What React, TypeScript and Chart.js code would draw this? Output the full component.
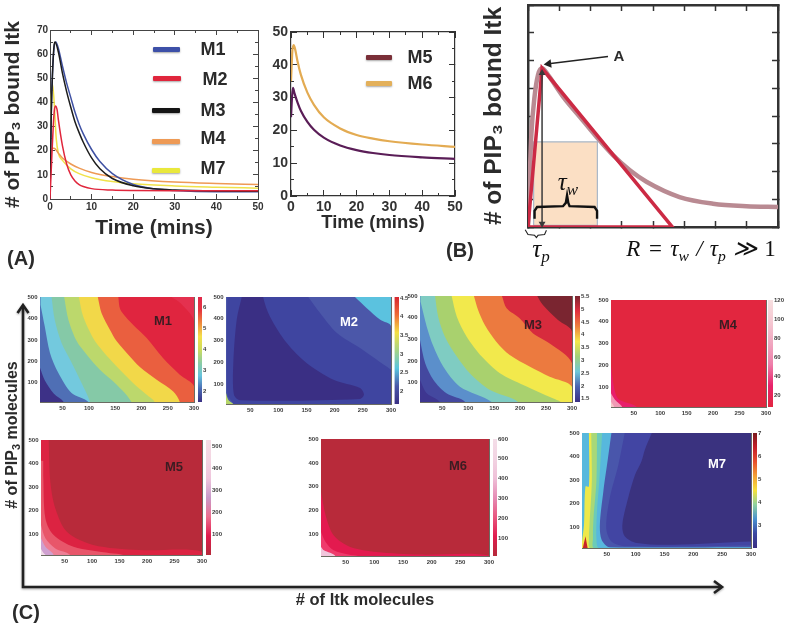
import React, { useEffect, useRef } from "react";
import { Chart, registerables } from "chart.js";

Chart.register(...registerables);

const W = 786;
const H = 626;
const SANS = "'Liberation Sans', Arial, sans-serif";
const SERIF = "'Liberation Serif', 'DejaVu Serif', serif";
const INK = "#2b2b2b";

type P = number[];

// ---------- Panel A: time courses ----------
const timeTicksMajor = [0, 10, 20, 30, 40, 50];
const timeTicksMinor = [5, 15, 25, 35, 45];
const aYMajor = [0, 10, 20, 30, 40, 50, 60, 70];
const aYMinor = [5, 15, 25, 35, 45, 55, 65];
const m1Curve: P[] = [[0, 0], [0.3, 35], [0.6, 52], [1, 63], [1.4, 65], [2, 62.5], [3, 55], [4, 48], [5, 42], [6, 36], [7, 31], [8, 27], [10, 20.5], [12, 15.5], [15, 10.5], [20, 6], [25, 4.2], [30, 3.5], [40, 3], [50, 3]];
const m2Curve: P[] = [[0, 0], [0.5, 20], [1, 36], [1.3, 38.5], [1.7, 37], [2, 33], [3, 22], [4, 14.5], [5, 10], [6, 7.5], [7, 6], [8, 5.2], [10, 4.3], [15, 3.7], [20, 3.5], [30, 3.4], [50, 3.4]];
const m3Curve: P[] = [[0, 0], [0.3, 35], [0.6, 52], [1, 64], [1.2, 65], [2, 61], [3, 52], [4, 44.5], [5, 38], [6, 32], [7, 27.5], [8, 23.5], [10, 17], [12, 12.5], [15, 8.5], [20, 5.5], [25, 4.2], [30, 3.7], [40, 3.3], [50, 3.2]];
const m4Curve: P[] = [[0, 8], [0.2, 17], [0.5, 21], [1, 21], [2, 19], [3, 17], [5, 14.5], [7, 12.8], [10, 11], [15, 9.3], [20, 8.2], [30, 7], [40, 6.4], [50, 6]];
const m7Curve: P[] = [[0, 10], [0.2, 35], [0.6, 47.5], [1, 40], [1.5, 25], [2, 19], [3, 16], [5, 12.5], [7, 10.5], [10, 8.8], [15, 7.2], [20, 6.3], [30, 5.4], [40, 4.9], [50, 4.5]];

// ---------- Panel A, right: M5 and M6 ----------
const bYMajor = [0, 10, 20, 30, 40, 50];
const bYMinor = [5, 15, 25, 35, 45];
const m5Curve: P[] = [[0, 24], [0.3, 30], [0.6, 33], [1, 31.5], [2, 28.5], [3, 26], [5, 22.6], [7, 20.2], [10, 17.8], [15, 15.4], [20, 14], [25, 13.1], [30, 12.5], [40, 11.8], [50, 11.3]];
const m6Curve: P[] = [[0, 35], [0.4, 44], [0.8, 46], [1.2, 45], [2, 41], [3, 37], [5, 31.5], [7, 27.8], [10, 24], [15, 20.6], [20, 18.6], [25, 17.5], [30, 16.7], [40, 15.7], [50, 15]];

// ---------- Panel B: schematic ----------
const schemeTicks = [0, 1, 2, 3, 4, 5, 6, 7, 8];
const schemeCurve: P[] = [[0, 0], [0.11, 3.37], [0.21, 4.7], [0.32, 5.48], [0.45, 5.72], [0.64, 5.48], [1.12, 4.7], [1.65, 3.98], [2.19, 3.25], [2.72, 2.59], [3.25, 2.05], [3.79, 1.63], [4.85, 1.08], [5.92, 0.84], [6.99, 0.75], [8, 0.72]];
const schemeTriangle: P[] = [[0, 0], [0.45, 5.72], [4.62, 0], [0, 0]];
const schemeBox: P[] = [[0.18, 0.06], [0.18, 3.07], [2.22, 3.07], [2.22, 0.06], [0.18, 0.06]];
const schemeHeight: P[] = [[0.45, 0.12], [0.45, 5.55]];
const schemeLeader: P[] = [[2.56, 6.14], [0.66, 5.88]];
const tauWBrace: P[] = [[0.21, 0.3], [0.21, 0.58], [0.29, 0.72], [1.12, 0.75], [1.21, 0.87], [1.25, 1.14], [1.29, 0.87], [1.33, 0.75], [2.13, 0.72], [2.21, 0.58], [2.21, 0.3]];
const tauPBrace: P[] = [[-0.09, -0.1], [0, -0.27], [0.21, -0.3], [0.27, -0.38], [0.32, -0.3], [0.53, -0.27], [0.59, -0.12], [0.53, -0.27]];

// ---------- Panel C: phase diagrams ----------
const itkTicks = [50, 100, 150, 200, 250, 300];
const pipTicks = [100, 200, 300, 400, 500];
const X0 = 7;
const X1 = 300;
const Y0 = 10;
const Y1 = 500;

const m1Levels: P[][] = [
  [[257, 500], [275, 470], [300, 386]],
  [[156, 500], [160, 441], [184, 371], [210, 309], [241, 215], [273, 137], [300, 83]],
  [[117, 500], [124, 425], [140, 347], [153, 293], [175, 231], [197, 173], [229, 114], [260, 60], [273, 10]],
  [[81, 500], [89, 410], [108, 309], [127, 246], [153, 176], [184, 99], [210, 44], [225, 10]],
  [[53, 500], [61, 394], [77, 293], [96, 231], [121, 161], [153, 91], [181, 10]],
  [[29, 500], [35, 394], [48, 285], [64, 208], [83, 114], [102, 10]],
  [[8, 464], [16, 363], [26, 239], [42, 145], [67, 52], [99, 10]],
  [[7, 170], [16, 112], [33, 50], [52, 10]],
];
const m1Fill = ["#e4314f", "#e0253f", "#ea5f3f", "#f2d849", "#bcd86c", "#85c9a7", "#73c9de", "#4f6fb5", "#3d3187"];
const m1Bar = ["#3a3084", "#4a69b2", "#66c3dc", "#8ccca2", "#cddc5c", "#f4df4a", "#ee8a3e", "#e5353f", "#e0284a"];
const m1BarTicks = [2, 3, 4, 5, 6];

const m2Levels: P[][] = [
  [[236, 500], [257, 449], [281, 396], [300, 366]],
];
const m2MidBlue: P[] = [[153, 500], [174, 427], [204, 335], [245, 266], [300, 167], [340, 100], [340, -40], [20, -40], [20, 10], [9.4, 53], [9.4, 560]];
const m2DarkBlue: P[] = [[35, 560], [73, 560], [73, 500], [85, 411], [115, 289], [150, 198], [198, 121], [245, 83], [252, 53], [245, 33], [32, 27], [21, 53], [20, 198], [26, 396], [35, 500]];
const m2Corner: P[] = [[7, 60], [11, 30], [20, 10], [25, -20], [-10, -20], [-10, 60]];
const m2Fill = ["#5bc2df", "#4b57a9"];
const m2Bar = ["#3a3084", "#4a57a8", "#5ac5de", "#a6d487", "#f3df43", "#ef6a35", "#d72630"];
const m2BarTicks = [2, 2.5, 3, 3.5, 4, 4.5];

const m3Levels: P[][] = [
  [[233, 500], [244, 458], [273, 389], [300, 335]],
  [[165, 500], [174, 443], [199, 397], [225, 327], [257, 281], [300, 189]],
  [[111, 500], [119, 435], [132, 366], [154, 289], [180, 227], [219, 173], [257, 127], [300, 81]],
  [[68, 500], [78, 404], [97, 312], [126, 220], [161, 143], [206, 89], [263, 27], [280, 5]],
  [[36, 500], [42, 404], [55, 312], [78, 220], [103, 143], [142, 65], [196, 10]],
  [[8, 474], [20, 358], [33, 266], [52, 173], [84, 81], [145, 10]],
  [[7, 297], [17, 189], [33, 112], [58, 50], [94, 10]],
  [[7, 112], [20, 50], [45, 10]],
];
const m3Fill = ["#7a2530", "#d72b3d", "#ec7a3f", "#f2e94c", "#a9d16e", "#7fccc2", "#5b8fcb", "#44489f", "#3e3690"];
const m3Bar = ["#3a3084", "#4a62b0", "#6fc7d8", "#a2d27a", "#f4e84a", "#ee7f3d", "#e12f3f", "#7b2630"];
const m3BarTicks = [1.5, 2, 2.5, 3, 3.5, 4, 4.5, 5, 5.5];

const m4Levels: P[][] = [
  [[7, 200], [12, 108], [21, 47], [56, 10]],
  [[7, 73], [15, 42], [28, 10]],
  [[7, 34], [13, 10]],
];
const m4Fill = ["#e2263f", "#e81f6b", "#f09ab5", "#f6c9c9"];
const m4Bar = ["#e2263f", "#e8236b", "#ee7faa", "#f0a8c0", "#f5c8d2", "#f7dfe0"];
const m4BarTicks = [20, 40, 60, 80, 100, 120];

const m5Levels: P[][] = [
  [[21, 500], [24, 322], [33, 209], [54, 109], [102, 53], [186, 31], [300, 24]],
  [[11, 351], [15, 166], [30, 95], [66, 45], [133, 17], [160, 5]],
  [[7, 138], [15, 81], [33, 38], [60, 10]],
  [[7, 81], [15, 45], [30, 10]],
  [[7, 36], [12, 17], [15, 10]],
];
const m5Fill = ["#b82a3a", "#dc2342", "#e8566a", "#ee7f96", "#cfa0d0", "#f0dbe8"];
const m5Bar = ["#b52a3a", "#e01c4e", "#ec6f8f", "#c89ac9", "#efc5dc", "#f3d5e2", "#f6dde6"];
const m5BarTicks = [100, 200, 300, 400, 500];

const m6Levels: P[][] = [
  [[7, 279], [15, 181], [29, 97], [58, 48], [104, 27], [180, 16], [300, 12]],
  [[7, 111], [15, 69], [29, 34], [55, 16], [75, 5]],
  [[7, 48], [12, 34], [32, 10]],
];
const m6Fill = ["#b82a3a", "#e31a4f", "#ef3b6c", "#f1c6dc"];
const m6Bar = ["#b52a3a", "#e01c4e", "#e8567f", "#e68cb5", "#efc0d8", "#f2d3e2", "#f4dde8"];
const m6BarTicks = [100, 200, 300, 400, 500, 600];

const m7Levels: P[][] = [
  [[19, 500], [19, 272], [13, 272], [10.5, 109], [7, 38], [7, 10]],
  [[23, 500], [24, 295], [20, 109], [19, 52], [21.5, 10]],
  [[33, 500], [32, 295], [27, 138], [26, 52], [28, 10]],
  [[42, 500], [37, 295], [33, 166], [32, 52], [37, 10]],
  [[58, 500], [52, 392], [44, 251], [38, 109], [41, 45], [55, 13], [300, 13]],
  [[81, 500], [70, 364], [55, 222], [49, 95], [58, 38], [84, 17], [300, 21]],
  [[128, 500], [116, 429], [110, 379], [99, 322], [87, 223], [77, 109], [81, 60], [102, 31], [165, 24], [300, 38]],
];
const m7Peak: P[] = [[13, 60], [7.5, -20], [19, -20]];
const m7Fill = ["#57b8dd", "#eee84a", "#a8d878", "#6ccbb8", "#57b8dd", "#4956ab", "#4245a3", "#3a327f"];
const m7Bar = ["#3a2f82", "#3c48a0", "#4a90cf", "#8ed0a0", "#f5e03c", "#f3a035", "#e8502e", "#c5202a", "#7a1a1e"];
const m7BarTicks = [3, 4, 5, 6, 7];

// ---------- helpers ----------
const lineData = (pts: P[]) => pts.map(([x, y]) => ({ x, y }));
// Boundaries are closed outside the clipped plot, so that smoothing never rounds a visible corner.
const closeLeft = (b: P[]): P[] => {
  const last = b[b.length - 1];
  return [...b, [last[0], Y0 - 60], [X0 - 40, Y0 - 60], [X0 - 40, b[0][1] + 60], [b[0][0], b[0][1] + 60]];
};
const closeRight = (b: P[]): P[] => {
  const last = b[b.length - 1];
  return [...b, [X1 + 40, last[1]], [X1 + 40, Y1 + 60], [b[0][0], Y1 + 60]];
};
const fullRect: P[] = [[X0 - 40, Y0 - 60], [X0 - 40, Y1 + 60], [X1 + 40, Y1 + 60], [X1 + 40, Y0 - 60]];

const fixSize = (size: number) => (s: any) => {
  if (s.isHorizontal()) s.height = size;
  else s.width = size;
  s.paddingLeft = s.paddingRight = s.paddingTop = s.paddingBottom = 0;
};
const setTicks = (vals: number[]) => (s: any) => {
  s.ticks = vals.map((value) => ({ value }));
};

type AxisOpt = {
  pos: "left" | "right" | "top" | "bottom";
  min: number;
  max: number;
  vals: number[];
  tick: number;
  color: string;
  border: number;
  size: number;
  weight?: number;
  showBorder?: boolean;
  tickWidth?: number;
  labels?: { font: any; color: string; gap: number };
  title?: { text: string; font: any; color: string };
};
const axis = (o: AxisOpt) => ({
  type: "linear",
  axis: o.pos === "left" || o.pos === "right" ? "y" : "x",
  position: o.pos,
  min: o.min,
  max: o.max,
  weight: o.weight ?? 0,
  afterBuildTicks: setTicks(o.vals),
  afterFit: fixSize(o.size),
  border: { display: o.showBorder !== false, color: o.color, width: o.border },
  grid: {
    drawOnChartArea: false,
    drawTicks: o.tick !== 0,
    tickLength: -o.tick,
    tickColor: o.color,
    tickWidth: o.tickWidth ?? 1,
  },
  ticks: o.labels
    ? {
        display: true,
        autoSkip: false,
        maxRotation: 0,
        font: o.labels.font,
        color: o.labels.color,
        padding: o.tick + o.labels.gap,
        callback: (v: any) => String(v),
      }
    : { display: false, autoSkip: false },
  title: o.title
    ? { display: true, text: o.title.text, font: o.title.font, color: o.title.color, padding: 0 }
    : { display: false },
});

const basePlugins = { legend: { display: false }, tooltip: { enabled: false }, title: { display: false } };

const ordered = (sets: any[]) => sets.map((d, i) => ({ pointRadius: 0, ...d, order: sets.length - i }));

const curve = (label: string, pts: P[], color: string, width: number) => ({
  label,
  data: lineData(pts),
  borderColor: color,
  borderWidth: width,
  cubicInterpolationMode: "monotone",
  fill: false,
});
const straight = (label: string, pts: P[], color: string, width: number, extra: any = {}) => ({
  label,
  data: lineData(pts),
  borderColor: color,
  borderWidth: width,
  tension: 0,
  fill: false,
  ...extra,
});

type Frame = { l: number; t: number; r: number; b: number };
const padFor = (f: Frame, leftW: number, bottomH: number, rightW = 0) => ({
  left: f.l - leftW,
  top: f.t,
  right: W - f.r - rightW,
  bottom: H - f.b - bottomH,
});

function boxAxes(o: {
  xMin: number; xMax: number; yMin: number; yMax: number;
  xMaj: number[]; xMin_: number[]; yMaj: number[]; yMin_: number[];
  tick: number; minor: number; color: string; border: number; leftW: number; bottomH: number;
  tickWidth?: number;
  labels?: { font: any; color: string; gap: number };
  xTitle?: { text: string; font: any; color: string };
  yTitle?: { text: string; font: any; color: string };
}) {
  const c = { tick: o.tick, color: o.color, border: o.border, tickWidth: o.tickWidth };
  const xr = { min: o.xMin, max: o.xMax };
  const yr = { min: o.yMin, max: o.yMax };
  const scales: any = {
    x: axis({ pos: "bottom", ...xr, vals: o.xMaj, size: o.bottomH, labels: o.labels, title: o.xTitle, ...c }),
    y: axis({ pos: "left", ...yr, vals: o.yMaj, size: o.leftW, labels: o.labels, title: o.yTitle, ...c }),
    xTop: axis({ pos: "top", ...xr, vals: o.xMaj, size: 0, ...c }),
    yRight: axis({ pos: "right", ...yr, vals: o.yMaj, size: 0, ...c }),
  };
  if (o.minor > 0) {
    const m = { tick: o.minor, color: o.color, border: 0, showBorder: false, size: 0, weight: -1, tickWidth: o.tickWidth };
    scales.xMinor = axis({ pos: "bottom", ...xr, vals: o.xMin_, ...m });
    scales.yMinor = axis({ pos: "left", ...yr, vals: o.yMin_, ...m });
    scales.xTopMinor = axis({ pos: "top", ...xr, vals: o.xMin_, ...m });
    scales.yRightMinor = axis({ pos: "right", ...yr, vals: o.yMin_, ...m });
  }
  return scales;
}

const baseOpts = { responsive: false, animation: false, devicePixelRatio: 1, events: [] as string[] };

// ---------- chart configs ----------
const titleA = { text: "Time (mins)", font: { family: SANS, size: 21, weight: "bold" }, color: INK };
const pipTitle = (size: number) => ({ text: "# of PIP\u2083 bound Itk", font: { family: SANS, size, weight: "bold" }, color: INK });

const frameA: Frame = { l: 50, t: 30, r: 258, b: 199 };
const chartA = {
  type: "line",
  data: {
    datasets: ordered([
      curve("M7", m7Curve, "#f0e24a", 1.5),
      curve("M4", m4Curve, "#ee9a55", 1.5),
      curve("M1", m1Curve, "#3f51a3", 1.5),
      curve("M3", m3Curve, "#1c1c1c", 1.5),
      curve("M2", m2Curve, "#e0263c", 1.5),
    ]),
  },
  options: {
    ...baseOpts,
    layout: { padding: padFor(frameA, 49.5, 42) },
    plugins: basePlugins,
    scales: boxAxes({
      xMin: 0, xMax: 50, yMin: 0, yMax: 70,
      xMaj: timeTicksMajor, xMin_: timeTicksMinor, yMaj: aYMajor, yMin_: aYMinor,
      tick: 5, minor: 3, color: "#444", border: 1, leftW: 49.5, bottomH: 42,
      labels: { font: { family: SANS, size: 10, weight: "bold" }, color: "#333", gap: 2 },
      xTitle: titleA, yTitle: pipTitle(21),
    }),
  },
};

const frameB: Frame = { l: 291, t: 32, r: 455, b: 196 };
const chartB = {
  type: "line",
  data: {
    datasets: ordered([
      curve("M6", m6Curve, "#e3ab52", 2.2),
      curve("M5", m5Curve, "#5a1d57", 2.2),
    ]),
  },
  options: {
    ...baseOpts,
    layout: { padding: padFor(frameB, 30, 38) },
    plugins: basePlugins,
    scales: boxAxes({
      xMin: 0, xMax: 50, yMin: 0, yMax: 50,
      xMaj: timeTicksMajor, xMin_: timeTicksMinor, yMaj: bYMajor, yMin_: bYMinor,
      tick: 6, minor: 3, color: "#333", border: 1.2, leftW: 30, bottomH: 38,
      labels: { font: { family: SANS, size: 14, weight: "bold" }, color: "#333", gap: 3 },
      xTitle: { text: "Time (mins)", font: { family: SANS, size: 18.5, weight: "bold" }, color: INK },
    }),
  },
};

const frameS: Frame = { l: 528, t: 5, r: 778, b: 227 };
const chartS = {
  type: "line",
  data: {
    datasets: ordered([
      straight("width box", schemeBox, "#a9b8c8", 1.2, { fill: "shape", backgroundColor: "#fbdfc4" }),
      curve("profile", schemeCurve, "#b98a92", 4.5),
      straight("triangle", schemeTriangle, "#cc2a44", 3.5),
      straight("height", schemeHeight, "#3a3a3a", 1.5, {
        pointStyle: "triangle",
        pointRadius: 4,
        pointRotation: [180, 0],
        pointBackgroundColor: "#3a3a3a",
        pointBorderWidth: 0,
      }),
      straight("leader", schemeLeader, "#222", 1.5, {
        pointStyle: "triangle",
        pointRadius: [0, 5],
        pointRotation: [0, 263],
        pointBackgroundColor: "#222",
        pointBorderWidth: 0,
      }),
      straight("tau w", tauWBrace, "#111", 2.4),
      straight("tau p", tauPBrace, "#222", 1.1, { clip: false }),
    ]),
  },
  options: {
    ...baseOpts,
    layout: { padding: padFor(frameS, 48, 0) },
    plugins: basePlugins,
    scales: boxAxes({
      xMin: 0, xMax: 8, yMin: 0, yMax: 8,
      xMaj: schemeTicks, xMin_: [], yMaj: schemeTicks, yMin_: [],
      tick: 6, minor: 0, color: "#333", border: 2.5, tickWidth: 1.5, leftW: 48, bottomH: 0,
      yTitle: pipTitle(24.5),
    }),
  },
};

const heatLabels = { font: { family: SANS, size: 6, weight: "bold" }, color: "#3a3a3a", gap: 2.5 };

function heatChart(frame: Frame, layers: { pts: P[]; color: string }[]) {
  return {
    type: "line",
    data: {
      datasets: ordered(
        layers.map((l, i) => ({
          label: "level " + i,
          data: lineData(l.pts),
          fill: "shape",
          backgroundColor: l.color,
          borderWidth: 0,
          tension: 0.3,
        }))
      ),
    },
    options: {
      ...baseOpts,
      layout: { padding: padFor(frame, 20, 14) },
      plugins: basePlugins,
      scales: boxAxes({
        xMin: X0, xMax: X1, yMin: Y0, yMax: Y1,
        xMaj: itkTicks, xMin_: [], yMaj: pipTicks, yMin_: [],
        tick: 1.5, minor: 0, color: "#6b6b62", border: 1, leftW: 20, bottomH: 14,
        labels: heatLabels,
      }),
    },
  };
}

function barChart(frame: Frame, lo: number, hi: number, vals: number[], colors: string[]) {
  return {
    type: "bar",
    data: {
      labels: ["scale"],
      datasets: [
        {
          data: [[lo, hi]],
          barPercentage: 1,
          categoryPercentage: 1,
          borderWidth: 0,
          backgroundColor: (ctx: any) => {
            const a = ctx.chart.chartArea;
            if (!a) return colors[0];
            const g = ctx.chart.ctx.createLinearGradient(0, a.bottom, 0, a.top);
            colors.forEach((c, i) => g.addColorStop(i / (colors.length - 1), c));
            return g;
          },
        },
      ],
    },
    options: {
      ...baseOpts,
      layout: { padding: padFor(frame, 0, 0, 20) },
      plugins: basePlugins,
      scales: {
        x: { display: false },
        y: {
          type: "linear",
          position: "right",
          min: lo,
          max: hi,
          afterBuildTicks: setTicks(vals),
          afterFit: fixSize(20),
          border: { display: false },
          grid: { drawOnChartArea: false, drawTicks: false },
          ticks: {
            font: { family: SANS, size: 6, weight: "bold" },
            color: "#3a3a3a",
            padding: 1,
            autoSkip: false,
            callback: (v: any) => String(v),
          },
        },
      },
    },
  };
}

const stack = (levels: P[][], fills: string[], close = closeLeft, extra: { pts: P[]; color: string }[] = []) => [
  { pts: fullRect, color: fills[0] },
  ...levels.map((b, i) => ({ pts: close(b), color: fills[i + 1] })),
  ...extra,
];

const specs: any[] = [
  chartA,
  chartB,
  chartS,
  heatChart({ l: 40, t: 297, r: 194, b: 402 }, stack(m1Levels, m1Fill)),
  barChart({ l: 198, t: 297, r: 202, b: 402 }, 1.47, 6.5, m1BarTicks, m1Bar),
  heatChart({ l: 226, t: 297, r: 391, b: 404 }, stack(m2Levels, m2Fill, closeLeft, [
    { pts: m2MidBlue, color: "#3f45a0" },
    { pts: m2DarkBlue, color: "#3a2f84" },
    { pts: m2Corner, color: "#b6d66a" },
  ])),
  barChart({ l: 394.5, t: 297, r: 399, b: 404 }, 1.66, 4.53, m2BarTicks, m2Bar),
  heatChart({ l: 420, t: 296, r: 572, b: 402 }, stack(m3Levels, m3Fill)),
  barChart({ l: 575, t: 296, r: 580, b: 402 }, 1.37, 5.52, m3BarTicks, m3Bar),
  heatChart({ l: 611, t: 300, r: 766, b: 407 }, stack(m4Levels, m4Fill)),
  barChart({ l: 768, t: 300, r: 773, b: 407 }, 8, 120, m4BarTicks, m4Bar),
  heatChart({ l: 41, t: 440, r: 202, b: 555 }, stack(m5Levels, m5Fill)),
  barChart({ l: 206, t: 440, r: 211, b: 555 }, 5, 527, m5BarTicks, m5Bar),
  heatChart({ l: 321, t: 439, r: 489, b: 556 }, stack(m6Levels, m6Fill)),
  barChart({ l: 493, t: 439, r: 497, b: 556 }, 9, 600, m6BarTicks, m6Bar),
  heatChart({ l: 582, t: 433, r: 751, b: 548 }, stack(m7Levels, m7Fill, closeRight, [
    { pts: m7Peak, color: "#c7232a" },
  ])),
  barChart({ l: 753, t: 433, r: 757, b: 548 }, 2.03, 7.03, m7BarTicks, m7Bar),
];

// ---------- page annotations ----------
const Txt = ({ x, y, size, color = INK, weight = "bold", family = SANS, rot = 0, style = {}, children }: any) => (
  <div
    style={{
      position: "absolute",
      left: x,
      top: y,
      transform: `translate(-50%,-50%) rotate(${rot}deg)`,
      whiteSpace: "nowrap",
      fontFamily: family,
      fontSize: size,
      fontWeight: weight,
      color,
      lineHeight: 1,
      ...style,
    }}
  >
    {children}
  </div>
);

const Swatch = ({ x, y, w, color, h = 5 }: any) => (
  <div
    style={{
      position: "absolute",
      left: x,
      top: y - h / 2,
      width: w,
      height: h,
      background: color,
      borderRadius: 1,
      boxShadow: "0 1px 2px rgba(0,0,0,0.35)",
    }}
  />
);

const subStyle = { fontSize: "0.68em", verticalAlign: "-0.32em", lineHeight: 0 };

export default function App() {
  const refs = useRef<(HTMLCanvasElement | null)[]>([]);
  useEffect(() => {
    const charts = specs.map((s, i) => new Chart(refs.current[i] as HTMLCanvasElement, s));
    return () => charts.forEach((c) => c.destroy());
  }, []);
  return (
    <div style={{ position: "absolute", left: 0, top: 0, width: W, height: H, overflow: "hidden", background: "#fff", filter: "blur(0.35px)" }}>
      {specs.map((_, i) => (
        <canvas
          key={i}
          ref={(el) => {
            refs.current[i] = el;
          }}
          width={W}
          height={H}
          style={{ position: "absolute", left: 0, top: 0, width: W, height: H }}
        />
      ))}

      {/* legends */}
      <Swatch x={153} y={49} w={27} color="#3d50a8" />
      <Swatch x={153} y={78} w={28} color="#e0263c" />
      <Swatch x={152} y={110} w={28} color="#141414" />
      <Swatch x={152} y={141} w={28} color="#ee9a55" />
      <Swatch x={152} y={170} w={28} color="#e9e83c" />
      <Txt x={213} y={49} size={18}>M1</Txt>
      <Txt x={215} y={79} size={18}>M2</Txt>
      <Txt x={213} y={110} size={18}>M3</Txt>
      <Txt x={213} y={138} size={18}>M4</Txt>
      <Txt x={213} y={168} size={18}>M7</Txt>
      <Swatch x={366} y={57} w={26} color="#7a2f38" />
      <Swatch x={366} y={83} w={26} color="#e3b05a" />
      <Txt x={420} y={57} size={18}>M5</Txt>
      <Txt x={420} y={83} size={18}>M6</Txt>

      {/* panel letters */}
      <Txt x={21} y={258} size={20}>(A)</Txt>
      <Txt x={460} y={250} size={20}>(B)</Txt>
      <Txt x={26} y={612} size={20}>(C)</Txt>

      {/* schematic text */}
      <Txt x={619} y={55} size={15}>A</Txt>
      <Txt x={568} y={181} size={25} family={SERIF} weight="normal" style={{ fontStyle: "italic", color: "#111" }}>
        τ<sub style={subStyle}>w</sub>
      </Txt>
      <Txt x={541} y={248} size={25} family={SERIF} weight="normal" style={{ fontStyle: "italic", color: "#111" }}>
        τ<sub style={subStyle}>p</sub>
      </Txt>
      <Txt x={701} y={248} size={23} family={SERIF} weight="normal" style={{ fontStyle: "italic", color: "#111", wordSpacing: 1.5 }}>
        R = τ<sub style={subStyle}>w</sub> / τ<sub style={subStyle}>p</sub> ≫ <span style={{ fontStyle: "normal" }}>1</span>
      </Txt>

      {/* heat-map names */}
      <Txt x={163} y={320} size={13} color="#3b1c22">M1</Txt>
      <Txt x={349} y={321} size={13} color="#fff">M2</Txt>
      <Txt x={533} y={324} size={13} color="#3b1c22">M3</Txt>
      <Txt x={728} y={324} size={13} color="#3b1c22">M4</Txt>
      <Txt x={174} y={466} size={13} color="#3b1c22">M5</Txt>
      <Txt x={458} y={465} size={13} color="#3b1c22">M6</Txt>
      <Txt x={717} y={463} size={13} color="#fff">M7</Txt>

      {/* shared axes of panel C */}
      <svg width={W} height={H} style={{ position: "absolute", left: 0, top: 0 }}>
        <g fill="none" stroke="#222" strokeWidth={2.6} style={{ filter: "drop-shadow(0 1px 1px rgba(0,0,0,0.35))" }}>
          <polyline points="23,306 23,587 722,587" />
          <polyline points="17.5,313 23,305 28.5,313" />
          <polyline points="714,581 722,587 714,593" />
        </g>
      </svg>
      <Txt x={12} y={435} size={16} rot={-90}>
        # of PIP<sub style={subStyle}>3</sub> molecules
      </Txt>
      <Txt x={365} y={599} size={16.5}># of Itk molecules</Txt>
    </div>
  );
}
